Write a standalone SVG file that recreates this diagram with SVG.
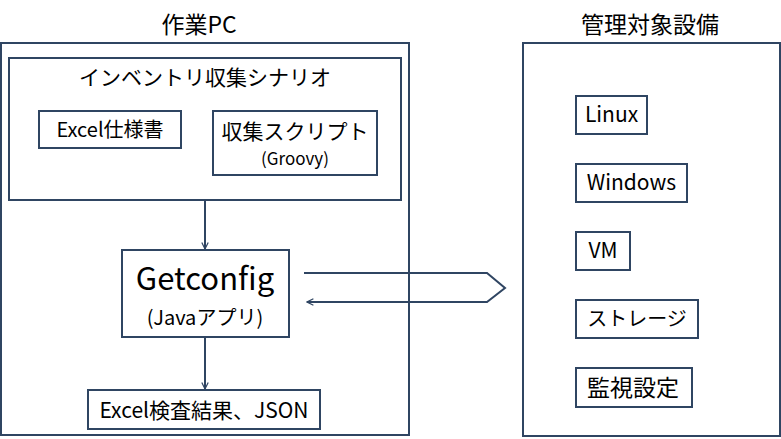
<svg xmlns="http://www.w3.org/2000/svg" width="781" height="439" viewBox="0 0 781 439">
<style>
.box{fill:#fff;stroke:#2f4562;stroke-width:2}
.ln{fill:none;stroke:#2f4562;stroke-width:2}
text{font-family:"Noto Sans CJK JP","Noto Sans",sans-serif;fill:#000;text-anchor:middle}
.t23{font-size:23px}
.t21{font-size:21px}
.t20{font-size:20px}
.t17{font-size:17px}
.t31{font-size:31px}
</style>
<defs>
<marker id="ah" viewBox="0 0 10 10" refX="9" refY="5" markerWidth="8" markerHeight="8" orient="auto" markerUnits="userSpaceOnUse">
<path d="M1,1 L9,5 L1,9" fill="none" stroke="#2f4562" stroke-width="1.5"/>
</marker>
</defs>
<rect width="781" height="439" fill="#fff"/>
<g id="pc">
<text class="t23" x="199" y="33">作業PC</text>
<rect class="box" x="1" y="43" width="408" height="392"/>
</g>
<g id="scenario">
<rect class="box" x="9" y="58" width="392" height="142"/>
<text class="t21" x="205" y="85">インベントリ収集シナリオ</text>
</g>
<g id="excelspec">
<rect class="box" x="39" y="111" width="142" height="37"/>
<text class="t20" x="110" y="137">Excel仕様書</text>
</g>
<g id="script">
<rect class="box" x="213" y="111" width="164" height="64"/>
<text class="t21" x="295" y="139">収集スクリプト</text>
<text class="t17" x="295" y="165">(Groovy)</text>
</g>
<g id="getconfig">
<rect class="box" x="122" y="250" width="167" height="87"/>
<text class="t31" x="205" y="290">Getconfig</text>
<text class="t20" x="205" y="325">(Javaアプリ)</text>
</g>
<g id="result">
<rect class="box" x="88" y="390" width="232" height="39"/>
<text class="t21" x="204" y="418">Excel検査結果、JSON</text>
</g>
<g id="targets">
<text class="t23" x="650" y="33">管理対象設備</text>
<rect class="box" x="523" y="43" width="257" height="393"/>
</g>
<g id="linux"><rect class="box" x="576" y="96" width="71" height="38"/><text class="t21" x="611.5" y="122">Linux</text></g>
<g id="windows"><rect class="box" x="576" y="164" width="111" height="38"/><text class="t21" x="631.5" y="190">Windows</text></g>
<g id="vm"><rect class="box" x="576" y="232" width="54" height="38"/><text class="t21" x="603" y="258">VM</text></g>
<g id="storage"><rect class="box" x="576" y="300" width="122" height="38"/><text class="t20" x="637" y="326">ストレージ</text></g>
<g id="monitor"><rect class="box" x="576" y="368" width="116" height="39"/><text class="t23" x="633" y="396">監視設定</text></g>
<g id="connectors">
<line class="ln" x1="205" y1="200" x2="205" y2="249" marker-end="url(#ah)"/>
<line class="ln" x1="205" y1="337" x2="205" y2="389" marker-end="url(#ah)"/>
<polyline class="ln" points="304,273 487,273 505,288 487,302 307,302" marker-end="url(#ah)"/>
</g>
</svg>
